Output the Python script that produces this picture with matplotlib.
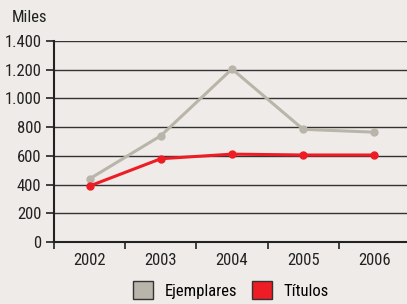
import matplotlib.pyplot as plt
from matplotlib import font_manager
from matplotlib.patches import Patch

years = ['2002', '2003', '2004', '2005', '2006']
ejemplares = [440, 740, 1205, 785, 765]
titulos = [390, 580, 612, 606, 606]
yticks = [0, 200, 400, 600, 800, 1000, 1200, 1400]
ylabels = ['0', '200', '400', '600', '800', '1.000', '1.200', '1.400']

bg = '#efebe8'
grey = '#bab5aa'
red = '#ee1c25'
ink = '#222222'

# look for a condensed face, the original uses a narrow grotesque
fonts = font_manager.fontManager.ttflist
names = {f.name for f in fonts}
family, stretch, fs = 'DejaVu Sans', 'normal', 10
for cand in ['Liberation Sans Narrow', 'Roboto Condensed', 'Open Sans Condensed', 'Noto Sans Condensed']:
    if cand in names:
        family, stretch, fs = cand, 'normal', 12
        break
else:
    if any(f.name == 'DejaVu Sans' and f.stretch in ('condensed', 'semi-condensed') for f in fonts):
        family, stretch, fs = 'DejaVu Sans', 'condensed', 11
plt.rcParams['font.family'] = [family, 'DejaVu Sans']
plt.rcParams['font.stretch'] = stretch

fig = plt.figure(figsize=(4.07, 3.04), dpi=100, facecolor=bg)
ax = fig.add_axes([54/407, 1 - 242/304, (410 - 54)/407, (242 - 41)/304])
ax.set_facecolor(bg)

x = range(len(years))
ax.plot(x, ejemplares, color=grey, lw=2.2, marker='o', ms=5, zorder=3, clip_on=False)
ax.plot(x, titulos, color=red, lw=2.2, marker='o', ms=5, zorder=4, clip_on=False)

ax.set_xlim(-0.5, 4.5)
ax.set_ylim(0, 1400)
ax.set_yticks(yticks)
ax.set_yticklabels(ylabels, fontsize=fs, color=ink)
ax.set_xticks(x)
ax.set_xticklabels(years, fontsize=fs, color=ink)
ax.set_xticks([i - 0.5 for i in range(6)], minor=True)
ax.tick_params(axis='x', which='major', length=0, pad=8)
ax.tick_params(axis='x', which='minor', length=5, width=1.2, color=ink, direction='out')
ax.tick_params(axis='y', length=6, width=1.2, color=ink, pad=3)
ax.grid(axis='y', color='#333333', lw=1, zorder=1)
for s in ['top', 'right']:
    ax.spines[s].set_visible(False)
for s in ['left', 'bottom']:
    ax.spines[s].set_linewidth(1.5)
    ax.spines[s].set_color(ink)

fig.text(12/407, 1 - 18/304, 'Miles', fontsize=fs, color=ink, va='center')

handles = [Patch(facecolor=grey, edgecolor='#333333', lw=1, label='Ejemplares'),
           Patch(facecolor=red, edgecolor='#333333', lw=1, label='Títulos')]
fig.legend(handles=handles, loc='center', bbox_to_anchor=(231/407, 1 - 290/304), ncol=2,
           frameon=False, fontsize=fs, handlelength=1.2, handleheight=1.2,
           columnspacing=0.9, handletextpad=0.7)

fig.savefig('out.png', dpi=100, facecolor=bg)
